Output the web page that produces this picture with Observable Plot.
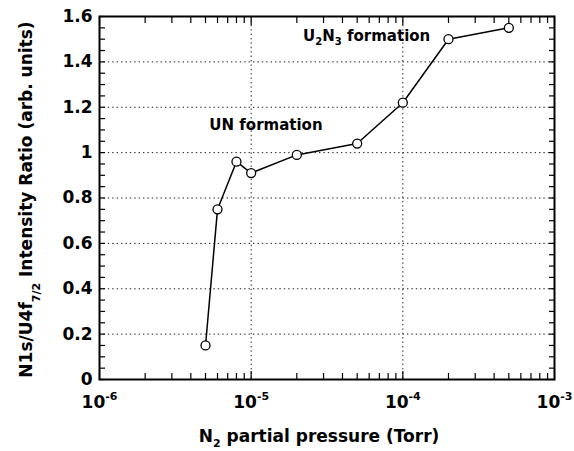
<!DOCTYPE html>
<html>
<head>
<meta charset="utf-8">
<script src="https://cdn.jsdelivr.net/npm/d3@7"></script>
<script src="https://cdn.jsdelivr.net/npm/@observablehq/plot@0.6"></script>
<style>
  body { margin: 0; background: #fff; }
</style>
</head>
<body>
<div id="chart"></div>
<script>
// Measured N1s/U4f(7/2) intensity ratio versus N2 partial pressure
const pressure = [5e-6, 6e-6, 8e-6, 1e-5, 2e-5, 5e-5, 1e-4, 2e-4, 5e-4];
const ratio = [0.15, 0.75, 0.96, 0.91, 0.99, 1.04, 1.22, 1.50, 1.55];

// Axis ticks and labels ("^{..}" = superscript, "_{..}" = subscript)
const xTickValues = [1e-6, 1e-5, 1e-4, 1e-3];
const xTickLabels = ["10^{-6}", "10^{-5}", "10^{-4}", "10^{-3}"];
const yTickValues = [0, 0.2, 0.4, 0.6, 0.8, 1, 1.2, 1.4, 1.6];
const yTickLabels = ["0", "0.2", "0.4", "0.6", "0.8", "1", "1.2", "1.4", "1.6"];
const xGridValues = [1e-5, 1e-4];
const yGridValues = [0.2, 0.4, 0.6, 0.8, 1, 1.2, 1.4];
const xMinorMantissas = [2, 3, 4, 5, 6, 7, 8, 9];
const xMinorDecades = [-6, -5, -4];
const yMinorStep = 0.05;

// Titles and in-plot annotations
const xTitle = "N_{2} partial pressure (Torr)";
const yTitle = "N1s/U4f_{7/2} Intensity Ratio (arb. units)";
const noteText = ["UN formation", "U_{2}N_{3} formation"];
const noteX = [5.3e-6, 2.2e-5];
const noteY = [1.12, 1.515];

const points = pressure.map((p, i) => ({p, r: ratio[i]}));
const notes = noteText.map((t, i) => ({t, x: noteX[i], y: noteY[i]}));
const xMinor = xMinorDecades.flatMap(e => xMinorMantissas.map(m => m * 10 ** e));
const yMinor = d3.range(0, Math.round(1.6 / yMinorStep) + 1).map(i => +(i * yMinorStep).toFixed(2));
const yLabelOf = new Map(yTickValues.map((v, i) => [v, yTickLabels[i]]));
const xLabelOf = new Map(xTickValues.map((v, i) => [v, xTickLabels[i]]));

const dotted = {stroke: "#222", strokeOpacity: 1, strokeWidth: 1, strokeDasharray: "1.4,3"};

const chart = Plot.plot({
  width: 574,
  height: 451,
  marginLeft: 99,
  marginRight: 20,
  marginTop: 16,
  marginBottom: 72,
  style: {fontFamily: "'DejaVu Sans', sans-serif", fontWeight: "bold", fontSize: "17px", color: "#000", background: "#fff"},
  x: {type: "log", domain: [1e-6, 1e-3]},
  y: {domain: [0, 1.6]},
  marks: [
    Plot.gridX(xGridValues, dotted),
    Plot.gridY(yGridValues, dotted),
    // inward tick marks on all four sides
    Plot.axisX(xMinor, {anchor: "bottom", tickSize: -6, fill: "none", strokeWidth: 1.2}),
    Plot.axisX(xMinor, {anchor: "top", tickSize: -6, fill: "none", strokeWidth: 1.2}),
    Plot.axisX(xTickValues, {anchor: "bottom", tickSize: -8, fill: "none", strokeWidth: 1.2}),
    Plot.axisX(xTickValues, {anchor: "top", tickSize: -8, fill: "none", strokeWidth: 1.2}),
    Plot.axisY(yMinor, {anchor: "left", tickSize: -6, fill: "none", strokeWidth: 1.2}),
    Plot.axisY(yMinor, {anchor: "right", tickSize: -6, fill: "none", strokeWidth: 1.2}),
    // tick labels
    Plot.axisX(xTickValues, {anchor: "bottom", tickSize: 0, tickPadding: 16, label: null,
      tickFormat: d => xLabelOf.get(d), fontSize: 17}),
    Plot.axisY(yTickValues, {anchor: "left", tickSize: 0, tickPadding: 7, label: null,
      tickFormat: d => yLabelOf.get(d), fontSize: 17}),
    Plot.frame({stroke: "#000", strokeWidth: 2}),
    // series
    Plot.line(points, {x: "p", y: "r", stroke: "#000", strokeWidth: 1.5}),
    Plot.dot(points, {x: "p", y: "r", r: 4.5, fill: "#fff", stroke: "#000", strokeWidth: 1.3}),
    // annotations
    Plot.text(notes, {x: "x", y: "y", text: "t", textAnchor: "start", lineAnchor: "middle", fontSize: 15, fill: "#000"}),
    // axis titles
    Plot.text([xTitle], {text: d => d, frameAnchor: "bottom", dy: 57, dx: -8, textAnchor: "middle", lineAnchor: "middle", fontSize: 17, fill: "#000"}),
    Plot.text([yTitle], {text: d => d, frameAnchor: "left", dx: -72.5, dy: 1.5, rotate: -90, textAnchor: "middle", lineAnchor: "middle", fontSize: 17, fill: "#000"})
  ]
});

// Render "^{..}" / "_{..}" markup as raised / lowered tspans
const scriptStyle = new Map([
  ...xTickLabels.map(s => [s, {size: 11, sub: 5, sup: 8}]),
  [xTitle, {size: 11, sub: 5, sup: 0}],
  [yTitle, {size: 11, sub: 8, sup: 0}],
  ...noteText.map(s => [s, {size: 10, sub: 4, sup: 0}])
]);
const NS = "http://www.w3.org/2000/svg";
function richText(el, src, {size, sub, sup}) {
  while (el.firstChild) el.removeChild(el.firstChild);
  const re = /([_^])\{([^}]*)\}/g;
  let last = 0, shift = 0, m;
  const add = (str, dy, fs) => {
    const t = document.createElementNS(NS, "tspan");
    t.textContent = str;
    if (dy) t.setAttribute("dy", dy);
    if (fs) t.setAttribute("font-size", fs);
    el.appendChild(t);
  };
  while ((m = re.exec(src))) {
    if (m.index > last) { add(src.slice(last, m.index), -shift); shift = 0; }
    const d = m[1] === "_" ? sub : -sup;
    add(m[2], d - shift, size);
    shift = d;
    last = re.lastIndex;
  }
  if (last < src.length) add(src.slice(last), -shift);
}
chart.querySelectorAll("text").forEach(el => {
  const src = el.textContent;
  if (scriptStyle.has(src)) richText(el, src, scriptStyle.get(src));
});

document.getElementById("chart").appendChild(chart);
</script>
</body>
</html>
